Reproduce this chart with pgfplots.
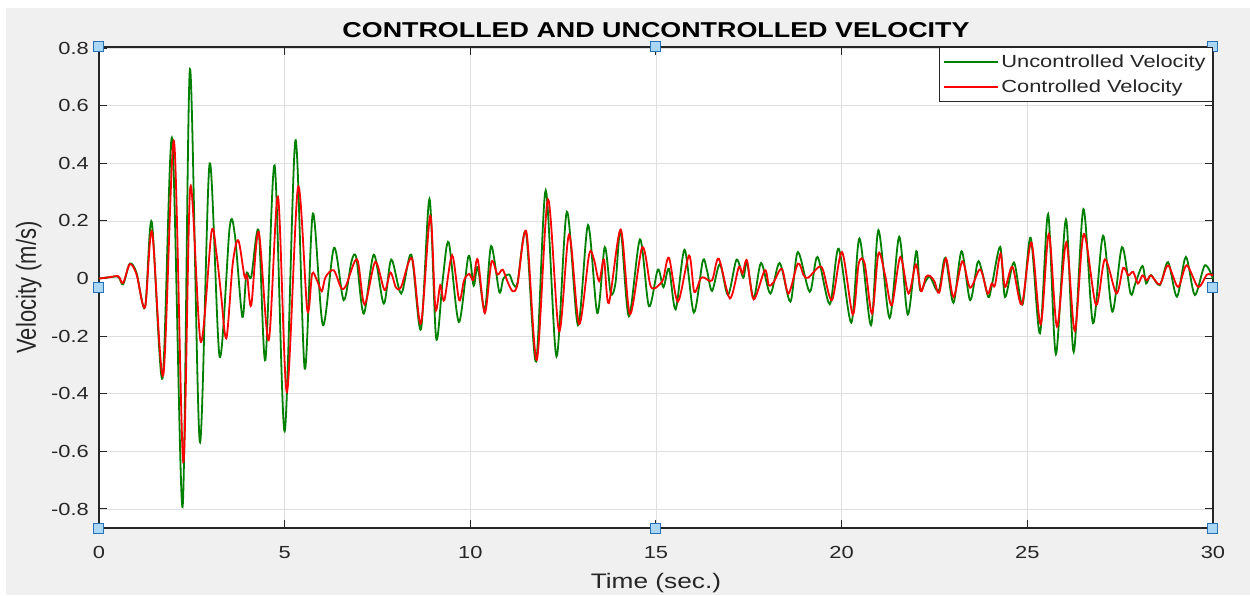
\documentclass[border=0pt]{standalone}
\usepackage{fontspec}
\setmainfont{Liberation Sans}[FakeStretch=1.25]
\newfontfamily\ylabfont{Liberation Sans}
\usepackage{pgfplots}
\pgfplotsset{compat=1.18}
\definecolor{bg}{HTML}{F0F0F0}
\definecolor{axc}{HTML}{262626}
\definecolor{gridc}{HTML}{DFDFDF}
\definecolor{mg}{HTML}{008000}
\definecolor{hfill}{HTML}{A9D7F5}
\definecolor{hdraw}{HTML}{2771B8}
\begin{document}
\begin{tikzpicture}
\fill[white] (0pt,0pt) rectangle (1250pt,595pt);
\fill[bg] (6pt,0pt) rectangle (1250pt,587pt);
\begin{axis}[
  at={(99pt,67pt)}, anchor=south west,
  width=1114pt, height=481pt, scale only axis,
  xmin=0, xmax=30, ymin=-0.866, ymax=0.804,
  clip=false,
  axis background/.style={fill=white},
  axis line style={color=axc, line width=1.2pt},
  xtick={0,5,10,15,20,25,30},
  ytick={-0.8,-0.6,-0.4,-0.2,0,0.2,0.4,0.6,0.8},
  yticklabels={-0.8,-0.6,-0.4,-0.2,0,0.2,0.4,0.6,0.8},
  tick align=inside, major tick length=8pt,
  tick style={color=axc, line width=1pt},
  grid=major, major grid style={color=gridc, line width=0.9pt},
  /pgf/number format/assume math mode=true,
  ticklabel style={font=\fontsize{17.5}{20}\selectfont, text=axc},
  xticklabel style={anchor=base, inner sep=0pt, yshift=-30pt},
  yticklabel style={anchor=east, inner sep=0pt, xshift=-10pt},
  title={\bfseries CONTROLLED AND UNCONTROLLED VELOCITY},
  title style={font=\fontsize{21.5}{24}\selectfont, at={(axis description cs:0.5,1)}, anchor=base, yshift=3pt, inner sep=0pt},
  xlabel={Time (sec.)},
  xlabel style={font=\fontsize{21}{24}\selectfont, text=axc, at={(axis description cs:0.5,0)}, anchor=base, yshift=-60pt, inner sep=0pt},
  legend cell align=left,
  legend style={at={(1,1)}, anchor=north east, draw=axc, line width=0.8pt, fill=white,
    font=\fontsize{17.5}{20}\selectfont, text=axc,
    inner xsep=4pt, inner ysep=2pt, row sep=0pt,
    nodes={inner ysep=0pt, inner xsep=3pt, minimum height=25pt}},
  legend image code/.code={\draw[#1, line width=1.4pt] (0pt,0pt) -- (54pt,0pt);},
]
\addplot[mg, line width=1.8pt, smooth, tension=0.5] coordinates {
(0,0) (0.3,0.005) (0.52,0.006) (0.65,-0.02) (0.83,0.052) (1.01,0.02) (1.24,-0.10)
(1.42,0.197) (1.71,-0.347) (1.97,0.486) (2.25,-0.793) (2.45,0.727) (2.715,-0.567)
(2.98,0.40) (3.25,-0.272) (3.52,0.179) (3.66,0.15) (3.86,-0.133) (3.97,0.017)
(4.10,0.006) (4.30,0.165) (4.48,-0.283) (4.73,0.393) (5.0,-0.53) (5.29,0.48)
(5.54,-0.313) (5.76,0.226) (6.03,-0.162) (6.33,0.107) (6.59,-0.075) (6.80,0.06)
(6.93,0.072) (7.13,-0.122) (7.40,0.083) (7.67,-0.087) (7.87,0.066) (8.14,-0.052)
(8.41,0.083) (8.67,-0.176) (8.90,0.276) (9.08,-0.208) (9.26,0.0) (9.42,0.125)
(9.69,-0.151) (9.95,0.078) (10.09,-0.025) (10.2,0.04) (10.39,-0.11) (10.56,0.113)
(10.78,-0.046) (10.89,0.0) (11.05,0.014) (11.16,-0.02) (11.27,-0.015) (11.50,0.159)
(11.77,-0.288) (12.03,0.306) (12.32,-0.27) (12.60,0.232) (12.90,-0.162) (13.17,0.186)
(13.42,-0.12) (13.62,0.109) (13.78,-0.05) (13.91,-0.015) (14.05,0.167) (14.27,-0.131)
(14.57,0.136) (14.81,-0.096) (15.05,0.031) (15.2,-0.03) (15.35,0.034) (15.53,-0.107)
(15.77,0.10) (16.02,-0.118) (16.26,0.061) (16.37,0.03) (16.51,-0.043) (16.72,0.05)
(16.94,-0.057) (17.17,0.066) (17.35,0.003) (17.45,0.057) (17.63,-0.069) (17.83,0.054)
(18.08,-0.052) (18.33,0.054) (18.62,-0.08) (18.82,0.092) (19.14,-0.046) (19.35,0.075)
(19.68,-0.089) (19.92,0.104) (20.26,-0.153) (20.48,0.139) (20.79,-0.162) (20.99,0.168)
(21.29,-0.137) (21.55,0.145) (21.78,-0.125) (22.01,0.095) (22.11,-0.04) (22.25,-0.012)
(22.38,0.006) (22.61,-0.044) (22.79,0.072) (23.01,-0.084) (23.23,0.095) (23.46,-0.075)
(23.66,0.056) (23.77,0.03) (23.95,-0.064) (24.05,-0.02) (24.27,0.11) (24.40,-0.064)
(24.64,0.056) (24.87,-0.09) (25.09,0.142) (25.34,-0.19) (25.56,0.224) (25.77,-0.262)
(26.04,0.205) (26.25,-0.255) (26.51,0.241) (26.77,-0.155) (27.04,0.149) (27.29,-0.115)
(27.55,0.109) (27.78,-0.052) (27.9,-0.02) (28.1,0.044) (28.2,-0.017) (28.33,0.012)
(28.57,-0.023) (28.79,0.057) (29.03,-0.063) (29.27,0.075) (29.51,-0.057) (29.78,0.046)
(30,0.0)
};
\addlegendentry{Uncontrolled Velocity}
\addplot[red, line width=1.8pt, smooth, tension=0.5] coordinates {
(0,0) (0.3,0.005) (0.52,0.008) (0.65,-0.015) (0.83,0.05) (1.01,0.015) (1.24,-0.10)
(1.43,0.162) (1.73,-0.336) (2.02,0.477) (2.27,-0.637) (2.46,0.318) (2.74,-0.22)
(3.03,0.162) (3.16,0.09) (3.28,-0.046) (3.43,-0.208) (3.6,0.05) (3.75,0.133)
(3.92,0.006) (3.99,0.01) (4.10,-0.093) (4.30,0.162) (4.57,-0.214) (4.82,0.284)
(5.06,-0.394) (5.36,0.318) (5.61,-0.11) (5.74,0.017) (5.87,-0.006) (6.0,-0.044)
(6.1,0.005) (6.32,0.029) (6.52,-0.032) (6.65,-0.025) (6.95,0.067) (7.15,-0.09)
(7.44,0.058) (7.69,-0.04) (7.85,0.021) (8.0,-0.032) (8.14,-0.028) (8.43,0.07)
(8.67,-0.156) (8.92,0.218) (9.06,-0.104) (9.19,-0.023) (9.30,-0.075) (9.51,0.081)
(9.70,-0.075) (9.83,-0.006) (9.97,0.016) (10.08,-0.005) (10.2,0.066) (10.39,-0.12)
(10.57,0.058) (10.73,0.014) (10.87,0.031) (11.0,-0.01) (11.14,-0.044) (11.27,-0.02)
(11.51,0.162) (11.79,-0.282) (12.09,0.275) (12.39,-0.183) (12.66,0.153) (12.93,-0.158)
(13.2,0.084) (13.33,0.066) (13.47,-0.009) (13.6,0.066) (13.73,-0.085) (14.05,0.17)
(14.30,-0.123) (14.63,0.109) (14.84,-0.02) (14.95,-0.034) (15.1,-0.02) (15.2,0.0)
(15.35,0.072) (15.59,-0.08) (15.89,0.08) (16.03,-0.046) (16.2,0.0) (16.3,0.003)
(16.51,-0.006) (16.69,0.069) (16.99,-0.069) (17.23,0.04) (17.33,0.017) (17.45,0.063)
(17.63,-0.072) (17.93,0.029) (18.04,-0.023) (18.17,-0.012) (18.39,0.034) (18.57,-0.052)
(18.82,0.052) (18.98,0.011) (19.1,0.003) (19.38,0.04) (19.5,0.029) (19.74,-0.075)
(20.01,0.092) (20.30,-0.125) (20.46,0.052) (20.62,0.052) (20.82,-0.122) (20.99,0.087)
(21.17,0.012) (21.35,-0.093) (21.58,0.075) (21.80,-0.052) (22.0,0.049) (22.14,-0.044)
(22.27,0.006) (22.38,0.009) (22.5,-0.01) (22.63,-0.049) (22.81,0.07) (23.01,-0.064)
(23.25,0.06) (23.46,-0.032) (23.73,0.032) (23.93,-0.052) (24.04,-0.017) (24.13,-0.023)
(24.28,0.087) (24.40,-0.029) (24.6,0.041) (24.85,-0.09) (25.11,0.125) (25.36,-0.159)
(25.58,0.155) (25.8,-0.167) (26.05,0.126) (26.28,-0.182) (26.52,0.155) (26.85,-0.092)
(27.09,0.067) (27.4,-0.052) (27.58,0.037) (27.72,0.011) (27.85,0.023) (27.98,-0.017)
(28.1,0.011) (28.22,-0.006) (28.33,0.011) (28.57,-0.02) (28.79,0.046) (29.06,-0.029)
(29.29,0.046) (29.6,-0.029) (29.84,0.014) (30,0.01)
};
\addlegendentry{Controlled Velocity}
\addplot[forget plot, only marks, mark=square*, mark size=5pt,
  mark options={fill=hfill, draw=hdraw, line width=1pt}] coordinates {
(0,0.804) (15,0.804) (30,0.804) (0,-0.031) (30,-0.031) (0,-0.866) (15,-0.866) (30,-0.866)
};
\node[rotate=90, yscale=1.25, anchor=base, inner sep=0pt, text=axc,
  font=\ylabfont\fontsize{22}{24}\selectfont]
  at ([xshift=-63pt]axis description cs:0,0.5) {Velocity (m/s)};
\end{axis}
\pgfresetboundingbox
\path (0pt,0pt) rectangle (1250pt,595pt);
\end{tikzpicture}
\end{document}
